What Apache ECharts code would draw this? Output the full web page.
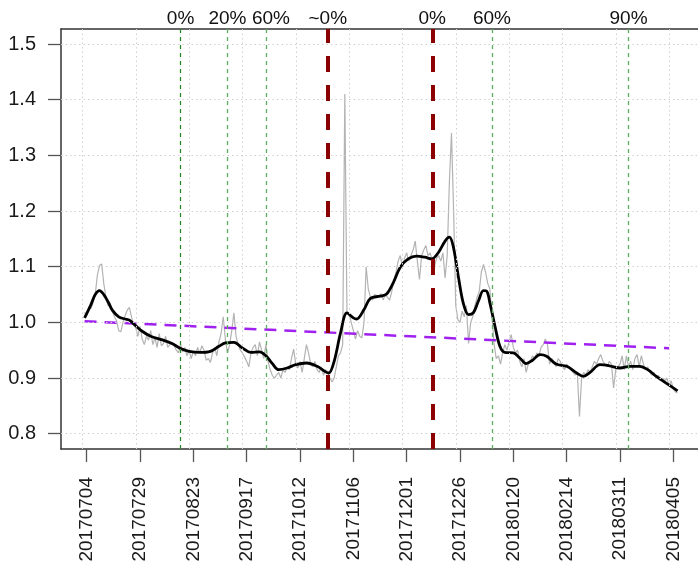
<!DOCTYPE html>
<html>
<head>
<meta charset="utf-8">
<script src="https://cdn.jsdelivr.net/npm/echarts@6/dist/echarts.min.js"></script>
<style>html,body{margin:0;padding:0;background:#fff;overflow:hidden;width:698px;height:568px}#c{width:760px;height:568px}</style>
</head>
<body>
<div id="c"></div>
<script>
// ---- data ----
const tickLabels = ['20170704','20170729','20170823','20170917','20171012','20171106','20171201','20171226','20180120','20180214','20180311','20180405'];
const tickDays = [0,25,50,75,100,125,150,175,200,225,250,275];
const yTicks = [0.8,0.9,1.0,1.1,1.2,1.3,1.4,1.5];
const rawStartDay = -1;
const rawValues = [
1.018,1.012,1.028,1.025,1.035,1.05,1.085,1.102,1.105,1.07,
1.045,1.03,1.035,1.02,1.01,1.003,0.985,0.983,1.0,1.012,
1.022,1.027,1.01,0.995,0.99,0.975,0.993,0.97,0.96,0.975,
0.968,0.985,0.96,0.972,0.955,0.98,0.958,0.962,0.975,0.955,
0.96,0.963,0.958,0.95,0.945,0.96,0.947,0.955,0.94,0.95,
0.935,0.948,0.94,0.955,0.945,0.958,0.95,0.932,0.935,0.928,
0.945,0.955,0.94,0.965,0.98,1.01,0.97,0.945,0.96,0.985,
1.017,0.975,0.96,0.95,0.945,0.938,0.93,0.92,0.945,0.955,
0.96,0.94,0.965,0.95,0.935,0.96,0.93,0.915,0.905,0.9,
0.905,0.91,0.9,0.915,0.91,0.92,0.915,0.935,0.952,0.925,
0.918,0.93,0.91,0.935,0.96,0.945,0.925,0.92,0.93,0.915,
0.91,0.92,0.905,0.915,0.91,0.9,0.893,0.9,0.92,0.94,
0.945,0.96,1.41,1.02,1.015,1.0,0.985,0.97,0.985,0.975,
0.972,1.0,1.1,1.06,1.045,1.04,1.05,1.048,1.045,1.052,
1.04,1.05,1.045,1.04,1.055,1.075,1.09,1.11,1.12,1.1,
1.115,1.125,1.11,1.12,1.13,1.146,1.11,1.077,1.12,1.13,
1.138,1.12,1.125,1.11,1.1,1.115,1.12,1.11,1.125,1.08,
1.12,1.25,1.34,1.2,1.03,1.005,1.0,1.02,1.01,1.03,
0.962,1.0,1.01,1.03,1.045,1.055,1.09,1.104,1.09,1.07,
1.06,1.01,0.96,0.935,0.94,0.925,0.945,0.96,0.95,0.965,
0.978,0.955,0.945,0.95,0.93,0.92,0.935,0.91,0.925,0.93,
0.94,0.935,0.945,0.94,0.955,0.96,0.97,0.96,0.925,0.935,
0.93,0.92,0.935,0.93,0.92,0.915,0.925,0.92,0.915,0.91,
0.905,0.91,0.831,0.9,0.91,0.905,0.915,0.91,0.92,0.93,
0.925,0.935,0.942,0.93,0.925,0.92,0.93,0.925,0.882,0.915,
0.92,0.925,0.94,0.915,0.94,0.92,0.93,0.915,0.935,0.942,
0.92,0.94,0.925,0.915,0.92,0.91,0.905,0.91,0.9,0.905,
0.895,0.9,0.895,0.9,0.885,0.895,0.88,0.875,0.873
];
const smoothDays = [-1,2,4,6,8,10,12,15,18,20,23,26,30,35,40,44,48,53,58,62,65,69,73,77,81,84,87,90,94,98,103,108,112,113.5,116,119,122,125,126.5,130,133,137.5,140.6,143.7,147,150.7,154.6,158.6,161.7,164.8,168,170,171.8,174.2,176.5,179,181.2,183.6,186,187.5,189,191.4,193.7,196,200,203,206,209,212.5,215.6,220,225,229.7,232.8,236,240.6,245,250,254.7,259.3,263,267,272,277];
const smoothValues = [1.008,1.032,1.05,1.057,1.05,1.037,1.022,1.01,1.006,1.004,0.994,0.984,0.975,0.969,0.962,0.953,0.948,0.946,0.948,0.957,0.963,0.964,0.954,0.946,0.947,0.94,0.926,0.915,0.918,0.924,0.927,0.921,0.911,0.909,0.93,0.981,1.017,1.008,1.006,1.023,1.043,1.047,1.051,1.071,1.099,1.114,1.119,1.117,1.114,1.125,1.146,1.153,1.137,1.083,1.035,1.014,1.017,1.038,1.057,1.056,1.035,0.993,0.957,0.946,0.945,0.936,0.926,0.932,0.942,0.939,0.925,0.921,0.909,0.903,0.91,0.924,0.922,0.918,0.921,0.921,0.915,0.903,0.89,0.877];
const trendDays = [-1, 273];
const trendValues = [1.002, 0.9535];
const eventDays = [44, 66, 84, 113, 162, 190, 254];
const eventLabels = ['0%', '20%', '60%', '~0%', '0%', '60%', '90%'];
const eventKinds = ['g', 'g', 'g', 'r', 'r', 'g', 'g'];

// ---- build ----
const FONT = 'Liberation Sans, Arial, sans-serif';
const rawData = rawValues.map((v, i) => [rawStartDay + i, v]);
const smoothData = smoothDays.map((d, i) => [d, smoothValues[i]]);
const trendData = trendDays.map((d, i) => [d, trendValues[i]]);
const gridOffset = -1.9;

const gridLines = [];
tickDays.forEach(t => gridLines.push({xAxis: t + gridOffset}));
yTicks.forEach(v => gridLines.push({yAxis: v}));

const eventLines = eventDays.map((d, i) => {
  const red = eventKinds[i] === 'r';
  const first = i === 0;
  return {
    xAxis: d,
    lineStyle: red
      ? {color: '#8b0000', width: 4, type: [16, 13], cap: 'butt'}
      : {color: first ? '#2a8a2a' : '#5fab5f', width: 1.3, type: [4, 4]},
    label: {show: true, formatter: eventLabels[i], position: 'end', distance: 1,
      fontFamily: FONT, fontSize: 19, color: '#111',
      offset: (i === 2) ? [5, 0] : [0, 0]}
  };
});

const chart = echarts.init(document.getElementById('c'), null, {renderer: 'canvas'});
chart.setOption({
  animation: false,
  backgroundColor: '#fff',
  grid: {left: 61, top: 29, width: 644, height: 420},
  xAxis: [{
    type: 'value', min: -12.05, max: 289.85, position: 'bottom',
    axisLine: {show: true, onZero: false, lineStyle: {color: '#333', width: 1.5}},
    axisTick: {show: true, length: 13, customValues: tickDays, lineStyle: {color: '#555', width: 1.3}},
    axisLabel: {show: true, customValues: tickDays, rotate: 90, margin: 28,
      formatter: v => tickLabels[tickDays.indexOf(v)] || '',
      fontFamily: FONT, fontSize: 19, color: '#1a1a1a'},
    splitLine: {show: false}
  }, {
    type: 'value', min: -12.05, max: 289.85, position: 'top',
    axisLine: {show: true, onZero: false, lineStyle: {color: '#333', width: 1.5}},
    axisTick: {show: false}, axisLabel: {show: false}, splitLine: {show: false}
  }],
  yAxis: {
    type: 'value', min: 0.7725, max: 1.527,
    axisLine: {show: true, onZero: false, lineStyle: {color: '#333', width: 1.5}},
    axisTick: {show: true, length: 13, customValues: yTicks, lineStyle: {color: '#555', width: 1.3}},
    axisLabel: {show: true, customValues: yTicks, margin: 25, formatter: v => v.toFixed(1),
      fontFamily: FONT, fontSize: 20, color: '#1a1a1a'},
    splitLine: {show: false}
  },
  series: [
    {
      type: 'line', data: [], z: 1, silent: true,
      markLine: {silent: true, symbol: ['none', 'none'], animation: false,
        label: {show: false},
        lineStyle: {color: '#d0d0d0', width: 1, type: [1.5, 3]},
        data: gridLines}
    },
    {
      type: 'line', data: rawData, z: 2, symbol: 'none', silent: true,
      lineStyle: {color: '#b3b3b3', width: 1.2}
    },
    {
      type: 'line', data: trendData, z: 3, symbol: 'none', silent: true,
      lineStyle: {color: '#a020f0', width: 2.5, type: [12, 8]}
    },
    {
      type: 'line', data: smoothData, z: 4, symbol: 'none', silent: true, smooth: 0.35,
      lineStyle: {color: '#000', width: 2.8}
    },
    {
      type: 'line', data: [], z: 5, silent: true,
      markLine: {silent: true, symbol: ['none', 'none'], animation: false,
        data: eventLines}
    }
  ]
});
</script>
</body>
</html>
